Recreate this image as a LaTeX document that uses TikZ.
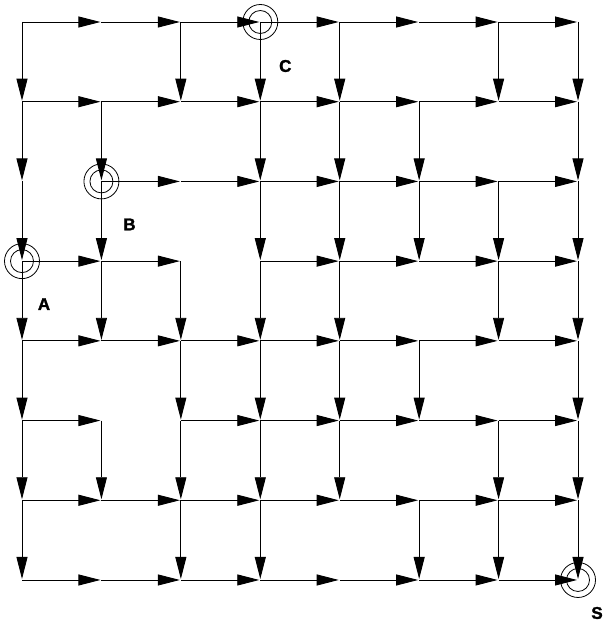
\documentclass[tikz,border=0pt]{standalone}
\usepackage{fontspec}
\setmainfont{Liberation Sans}
\newfontfamily\heavyfont[BoldFeatures={FakeBold=1.6}]{Liberation Sans}
\usetikzlibrary{arrows.meta,calc}
\begin{document}
\begin{tikzpicture}[x=1pt,y=-1pt,
  edge/.style={line width=0.9pt, shorten >=1pt, -{Triangle[length=22pt,width=11pt]}},
  ring/.style={circle, draw, line width=0.8pt, minimum size=35pt, inner sep=0pt},
  ringin/.style={circle, draw, line width=0.8pt, minimum size=23pt, inner sep=0pt},
  lbl/.style={font=\heavyfont\bfseries\fontsize{17}{17}\selectfont, inner sep=0pt}]
\useasboundingbox (0,0) rectangle (603,623);
\foreach \c in {0,...,7}{\foreach \r in {0,...,7}{
  \coordinate (n-\c-\r) at ({22+79.43*\c},{22+79.71*\r});}}
% horizontal edges: row / start columns
\foreach \r/\cs in {0/{0,1,2,3,4,5,6},1/{0,1,2,3,4,5,6},2/{1,2,3,4,5,6},3/{0,1,3,4,5,6},4/{0,1,2,3,4,5,6},5/{0,2,3,4,5,6},6/{0,1,2,3,4,5,6},7/{0,1,2,3,4,5,6}}{
  \foreach \c in \cs {\pgfmathtruncatemacro\cn{\c+1}
    \draw[edge] (n-\c-\r) -- (n-\cn-\r);}}
% vertical edges: row / columns
\foreach \r/\cs in {0/{0,2,3,4,6,7},1/{0,1,3,4,5,7},2/{0,1,3,4,5,6,7},3/{0,1,2,3,4,6,7},4/{0,2,3,4,5,7},5/{0,1,2,3,4,6,7},6/{0,2,3,5,6,7}}{
  \foreach \c in \cs {\pgfmathtruncatemacro\rn{\r+1}
    \draw[edge] (n-\c-\r) -- (n-\c-\rn);}}
% rings
\foreach \p/\n in {3-0/C,1-2/B,0-3/A,7-7/S}{
  \node[ring] (ro\n) at (n-\p) {};
  \node[ringin] (ri\n) at (n-\p) {};}
% labels
\node[lbl] (labC) at ($(n-3-0)+(25,44)$) {C};
\node[lbl] (labB) at ($(n-1-2)+(28,43)$) {B};
\node[lbl] (labA) at ($(n-0-3)+(22,43)$) {A};
\node[lbl] (labS) at ($(n-7-7)+(19,33)$) {S};
\end{tikzpicture}
\end{document}
